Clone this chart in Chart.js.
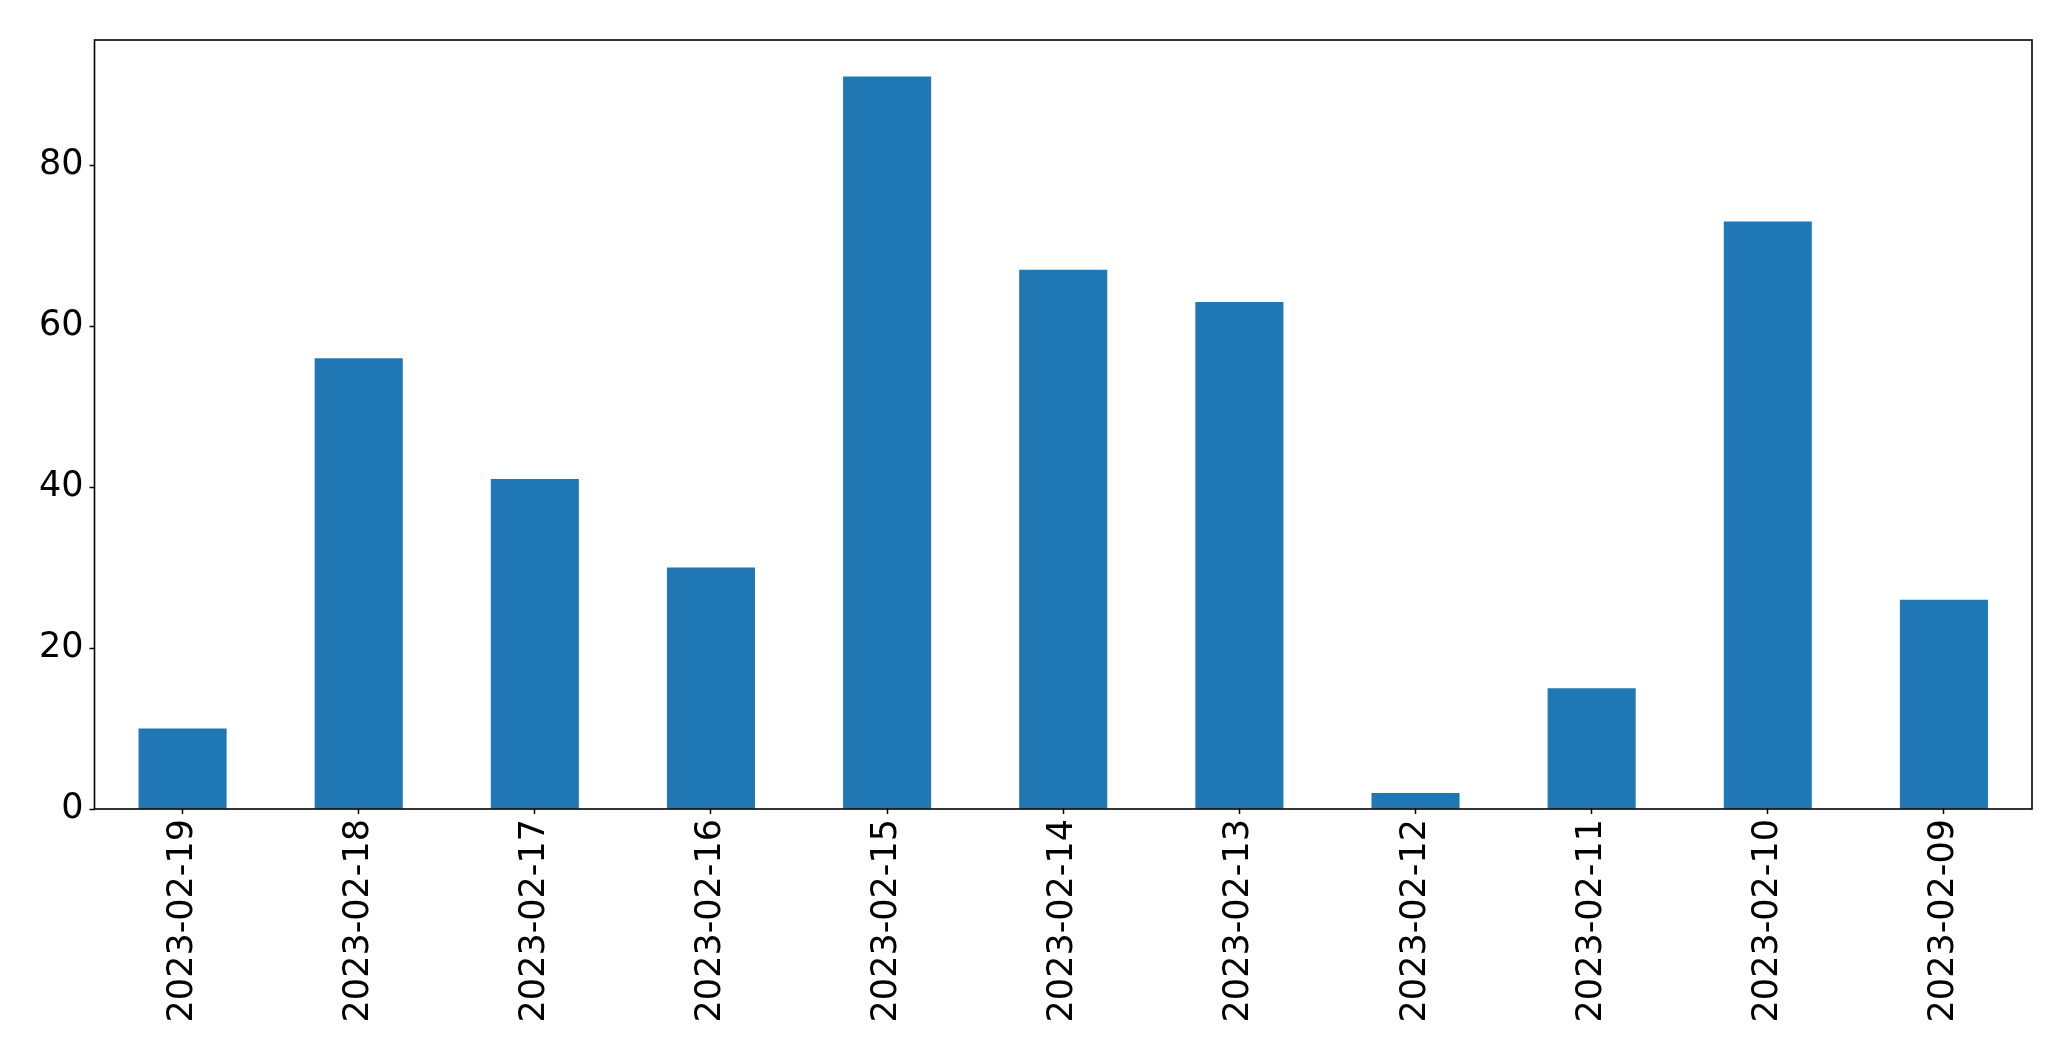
<!DOCTYPE html>
<html>
<head>
<meta charset="utf-8">
<script src="https://cdn.jsdelivr.net/npm/chart.js@4.4.0/dist/chart.umd.min.js"></script>
<style>
  html, body { margin: 0; padding: 0; background: #fff; }
  canvas { display: block; }
</style>
</head>
<body>
<canvas id="barChart" width="2071" height="1061"></canvas>
<script>
// data
let dates = ['2023-02-19', '2023-02-18', '2023-02-17', '2023-02-16', '2023-02-15', '2023-02-14',
    '2023-02-13', '2023-02-12', '2023-02-11', '2023-02-10', '2023-02-09'];
let counts = [10, 56, 41, 30, 91, 67, 63, 2, 15, 73, 26];
let yTicks = [0, 20, 40, 60, 80];
let yMax = 95.55;

let fontSpec = { family: "'DejaVu Sans'", size: 35 };

// frame around the plot area
let frameBox = {
    id: 'frameBox',
    afterDraw(chart) {
        let ctx = chart.ctx;
        let a = chart.chartArea;
        ctx.save();
        ctx.strokeStyle = '#000';
        ctx.lineWidth = 1.6;
        ctx.strokeRect(a.left, a.top, a.right - a.left, a.bottom - a.top);
        ctx.restore();
    }
};

let graph = document.querySelector('#barChart').getContext('2d');
var chart = new Chart(graph, {
    type: 'bar',
    data: {
        labels: dates,
        datasets: [
            {
                data: counts,
                backgroundColor: '#1f77b4',
                barPercentage: 0.5,
                categoryPercentage: 1.0
            }
        ]
    },
    options: {
        responsive: false,
        animation: false,
        devicePixelRatio: 1,
        layout: {
            padding: { top: 40, right: 39, left: 0, bottom: 0 }
        },
        scales: {
            x: {
                offset: true,
                grid: {
                    offset: false,
                    drawOnChartArea: false,
                    drawTicks: true,
                    tickLength: 5,
                    tickWidth: 1.5,
                    tickColor: '#000'
                },
                border: { display: false },
                ticks: {
                    color: '#000',
                    font: fontSpec,
                    minRotation: 90,
                    maxRotation: 90,
                    autoSkip: false,
                    padding: 5
                },
                afterFit(scale) { scale.height = 252; }
            },
            y: {
                min: 0,
                max: yMax,
                grid: {
                    drawOnChartArea: false,
                    drawTicks: true,
                    tickLength: 5,
                    tickWidth: 1.5,
                    tickColor: '#000'
                },
                border: { display: false },
                ticks: {
                    color: '#000',
                    font: fontSpec,
                    stepSize: 20,
                    includeBounds: false,
                    padding: 6
                },
                afterBuildTicks(scale) {
                    scale.ticks = yTicks.map(v => ({ value: v }));
                },
                afterFit(scale) { scale.width = 94.5; }
            }
        },
        plugins: {
            legend: { display: false },
            tooltip: { enabled: false }
        }
    },
    plugins: [frameBox]
});
</script>
</body>
</html>
